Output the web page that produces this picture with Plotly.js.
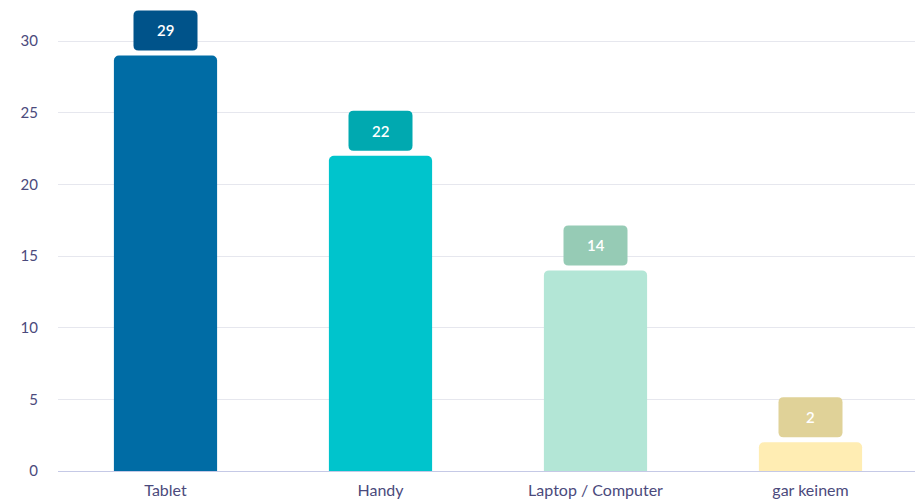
<!DOCTYPE html>
<html><head><meta charset="utf-8">
<script src="https://cdn.plot.ly/plotly-3.0.1.min.js"></script>
<style>body{margin:0;background:#fff;overflow:hidden}#c{width:918px;height:501px}</style>
</head><body><div id="c"></div>
<script>
const categories = ["Tablet", "Handy", "Laptop / Computer", "gar keinem"];
const values = [29, 22, 14, 2];
const barColors = ["#006ca5", "#00c4cc", "#b3e6d6", "#ffedb3"];
const labelColors = ["#00538a", "#00a9b0", "#96cbb5", "#e0d298"];
const yTicks = [0, 5, 10, 15, 20, 25, 30];

function roundRect(w, h, r, dy) {
  const x0 = -w/2, x1 = w/2, y0 = dy, y1 = dy + h;
  return `M${x0+r},${y0} L${x1-r},${y0} Q${x1},${y0} ${x1},${y0+r} L${x1},${y1-r} Q${x1},${y1} ${x1-r},${y1} L${x0+r},${y1} Q${x0},${y1} ${x0},${y1-r} L${x0},${y0+r} Q${x0},${y0} ${x0+r},${y0} Z`;
}

const trace = {
  type: "bar", x: categories, y: values,
  marker: {color: barColors, cornerradius: 5, line: {width: 0}},
  hoverinfo: "none"
};

const shapes = categories.map((c, i) => ({
  type: "path", xref: "x", yref: "y", xsizemode: "pixel", ysizemode: "pixel",
  xanchor: c, yanchor: values[i],
  path: roundRect(64, 40, 5, 5),
  fillcolor: labelColors[i], line: {width: 0}, layer: "above"
}));

const annotations = categories.map((c, i) => ({
  x: c, y: values[i], xref: "x", yref: "y", text: String(values[i]),
  showarrow: false, yshift: 25, yanchor: "middle",
  font: {family: "Lato, sans-serif", size: 15, color: "#ffffff", weight: 600}
}));

const layout = {
  width: 918, height: 501,
  margin: {l: 58, r: 0, t: 10, b: 30},
  paper_bgcolor: "#ffffff", plot_bgcolor: "#ffffff",
  bargap: 0.52, showlegend: false,
  font: {family: "Lato, sans-serif", color: "#4b4a7c"},
  xaxis: {showgrid: false, showline: false, ticks: "", ticklabelstandoff: 8,
          tickfont: {size: 16, color: "#4b4a7c"}, fixedrange: true},
  yaxis: {range: [0, 32.17], tickvals: yTicks, ticktext: yTicks.map(String),
          showgrid: true, gridcolor: "#e6e7ee", gridwidth: 1,
          zeroline: true, zerolinecolor: "#c5c9e6", zerolinewidth: 1,
          showline: false, ticks: "", ticklabelstandoff: 19,
          tickfont: {size: 15, color: "#4b4a7c"}},
  shapes: shapes, annotations: annotations
};

Plotly.newPlot("c", [trace], layout, {displayModeBar: false, staticPlot: true});
</script></body></html>
